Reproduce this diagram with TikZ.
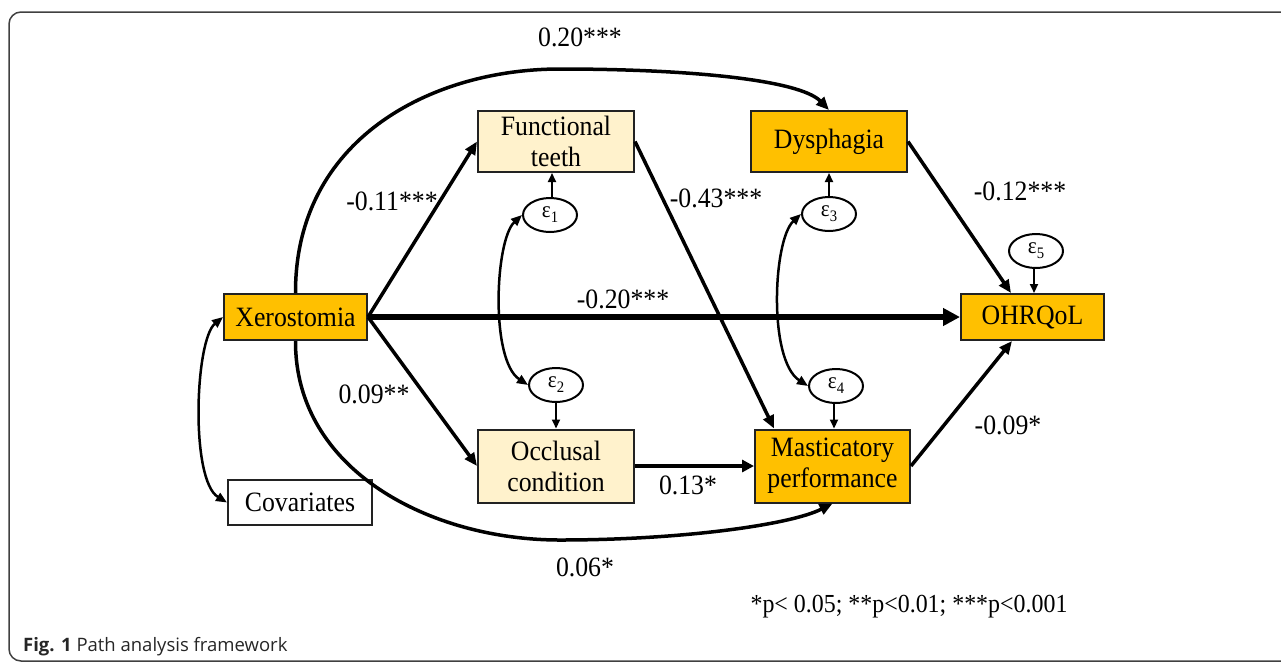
\documentclass[tikz,border=0pt]{standalone}
\usepackage{fontspec}
\setmainfont[FakeStretch=0.92]{Liberation Serif}
\newfontfamily\capfont{Open Sans}
\usetikzlibrary{arrows.meta,shapes.geometric,calc}
\definecolor{gold}{HTML}{FFC000}
\definecolor{cream}{HTML}{FFF2CC}
\definecolor{edgec}{HTML}{222222}
\newcommand{\eps}[1]{ε\raisebox{-5pt}{\fontsize{16}{16}\selectfont #1}}
\begin{document}
\begin{tikzpicture}[x=1pt,y=-1pt,
  box/.style={draw=edgec,line width=2pt,inner sep=0pt,align=center,
    font=\fontsize{28}{31}\selectfont},
  goldbox/.style={box,fill=gold},
  creambox/.style={box,fill=cream},
  whitebox/.style={box,fill=white},
  errnode/.style={ellipse,draw=black,line width=2pt,fill=white,inner sep=0pt,
    minimum width=54pt,minimum height=34pt,font=\fontsize{23}{23}\selectfont},
  lbl/.style={font=\fontsize{28}{30}\selectfont,inner sep=0pt},
  patharrow/.style={line width=3.5pt,-{Triangle[length=13pt,width=11pt]}},
  bigarrow/.style={line width=6pt,-{Triangle[length=17pt,width=17pt]}},
  midarrow/.style={line width=4.5pt,-{Triangle[length=12pt,width=12pt]}},
  errarrow/.style={line width=2pt,-{Triangle[length=9pt,width=8pt]}},
  covarrow/.style={line width=2.5pt,{Triangle[length=11pt,width=9pt]}-{Triangle[length=11pt,width=9pt]}}
]
\useasboundingbox (0,0) rectangle (1281,662);
\clip (0,0) rectangle (1281,662);
% frame
\draw[rounded corners=12pt,line width=1.5pt,black!75] (9,12) rectangle (1310,661);

% boxes
\node[goldbox,minimum width=143pt,minimum height=46pt] (xero) at (295.5,317) {Xerostomia};
\node[creambox,minimum width=156pt,minimum height=61pt] (ft) at (556,141.5) {Functional\\teeth};
\node[goldbox,minimum width=156pt,minimum height=61pt] (dys) at (829,141.5) {Dysphagia};
\node[goldbox,minimum width=143pt,minimum height=46pt] (ohr) at (1032.5,317) {OHRQoL};
\node[creambox,minimum width=156pt,minimum height=73pt] (occ) at (556,466) {Occlusal\\condition};
\node[goldbox,minimum width=155pt,minimum height=73pt] (mas) at (832.5,466) {Masticatory\\performance};
\node[whitebox,minimum width=144pt,minimum height=45pt] (cov) at (300,502.5) {Covariates};

% error terms
\node[errnode] (e1) at (550,215) {\eps{1}};
\node[errnode] (e2) at (556,385) {\eps{2}};
\node[errnode] (e3) at (829,214) {\eps{3}};
\node[errnode] (e4) at (836,386) {\eps{4}};
\node[errnode] (e5) at (1036,251) {\eps{5}};

\coordinate (e1t) at ($(e1.north)+(2,0)$);
\coordinate (e4b) at ($(e4.south)+(-2,0)$);
\coordinate (e5b) at ($(e5.south)+(-2,0)$);

% error arrows
\draw[errarrow] (e1t) -- (e1t |- ft.south);
\draw[errarrow] (e2.south) -- (e2.south |- occ.north);
\draw[errarrow] (e3.north) -- (e3.north |- dys.south);
\draw[errarrow] (e4b) -- (e4b |- mas.north);
\draw[errarrow] (e5b) -- (e5b |- ohr.north);

% covariances
\draw[covarrow] (e1.west) .. controls (495,240) and (490,360) .. (e2.west);
\draw[covarrow] (e3.west) .. controls (773,240) and (768,360) .. (e4.west);
\draw[covarrow] (xero.west) .. controls (195,340) and (190,480) .. (cov.west);

% paths
\draw[patharrow] (xero.east) -- (ft.west);
\draw[patharrow] (xero.east) -- (occ.west);
\draw[bigarrow] (xero.east) -- (ohr.west);
\draw[patharrow] (ft.east) -- ($(mas.north west)+(20,0)$);
\draw[midarrow] (occ.east) -- (mas.west);
\draw[patharrow] (dys.east) -- ($(ohr.north west)+(51,0)$);
\draw[patharrow] (mas.east) -- ($(ohr.south west)+(52,0)$);
\draw[patharrow] (xero.north) .. controls (295,140) and (430,69) .. (560,69)
  .. controls (690,69) and (800,80) .. (dys.north);
\draw[patharrow] (xero.south) .. controls (295,470) and (430,540) .. (560,540)
  .. controls (680,540) and (790,525) .. (mas.south);

% labels
\node[lbl] (l1) at (580,37) {0.20***};
\node[lbl] (l2) at (392,201) {-0.11***};
\node[lbl] (l3) at (716,198) {-0.43***};
\node[lbl] (l4) at (1020,191) {-0.12***};
\node[lbl] (l5) at (623,299) {-0.20***};
\node[lbl] (l6) at (374,394) {0.09**};
\node[lbl] (l7) at (688,485) {0.13*};
\node[lbl] (l8) at (585,567) {0.06*};
\node[lbl] (l9) at (1008,425) {-0.09*};
\node[lbl,font=\fontsize{26}{28}\selectfont] (fn) at (909,607) {*p< 0.05; **p<0.01; ***p<0.001};

% caption
\node[anchor=base west,inner sep=0pt,font=\capfont\fontsize{18.5}{22}\selectfont,text=black!85] (cap) at (23,651)
  {\textbf{Fig. 1} Path analysis framework};
\end{tikzpicture}
\end{document}
